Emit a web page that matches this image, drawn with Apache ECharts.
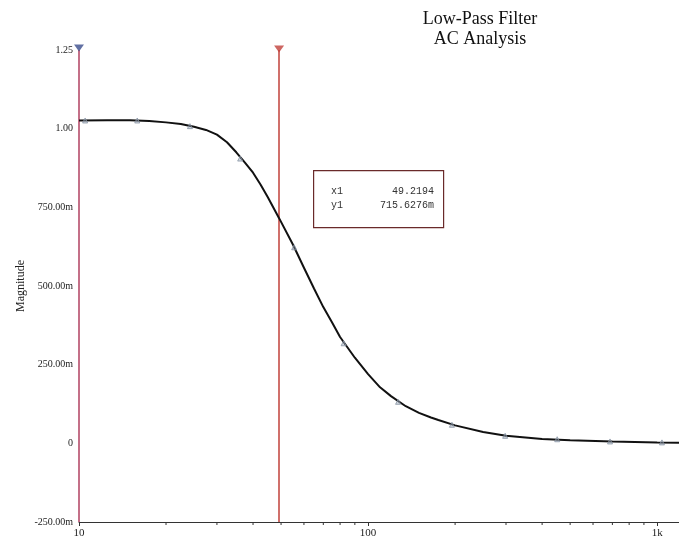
<!DOCTYPE html>
<html>
<head>
<meta charset="utf-8">
<script src="https://cdn.jsdelivr.net/npm/echarts@6/dist/echarts.min.js"></script>
<style>html,body{margin:0;padding:0;background:#fff}#c{width:679px;height:545px}</style>
</head>
<body>
<div id="c"></div>
<script>
// Curve (frequency in Hz, magnitude)
const freq = [10, 12.5, 15, 17.5, 20, 22.5, 25, 27.5, 30, 32.5, 35, 37.5, 40, 42.5, 45, 49.2194, 55, 60, 65, 70, 75, 80, 90, 100, 110, 120, 135, 150, 165, 175, 200, 250, 300, 400, 500, 700, 1000, 1190];
const mag  = [1.026, 1.027, 1.027, 1.024, 1.02, 1.015, 1.006, 0.996, 0.981, 0.957, 0.925, 0.892, 0.86, 0.822, 0.782, 0.7156, 0.631, 0.558, 0.492, 0.433, 0.385, 0.338, 0.272, 0.22, 0.178, 0.15, 0.118, 0.097, 0.082, 0.074, 0.057, 0.036, 0.024, 0.014, 0.010, 0.006, 0.003, 0.002];
// Data point markers
const markerFreq = [10.5, 15.9, 24.2, 36.1, 55.5, 82.3, 127, 195, 298, 451, 687, 1039];
const markerMag  = [1.026, 1.026, 1.008, 0.905, 0.623, 0.318, 0.132, 0.059, 0.024, 0.013, 0.006, 0.003];
// Cursors
const cursor1X = 49.2194, cursor1Y = 0.7156276, cursor2X = 10;
// Axis ticks
const yTicks = [-0.25, 0, 0.25, 0.5, 0.75, 1.0, 1.25];
const yTickLabels = ['-250.00m', '0', '250.00m', '500.00m', '750.00m', '1.00', '1.25'];
const xMajor = [10, 100, 1000];
const xMajorLabels = ['10', '100', '1k'];
const xMinor = [20, 30, 40, 50, 60, 70, 80, 90, 200, 300, 400, 500, 600, 700, 800, 900];

const chart = echarts.init(document.getElementById('c'));
const serif = '"Liberation Serif", "DejaVu Serif", serif';
chart.setOption({
  backgroundColor: '#fff',
  animation: false,
  title: {
    text: 'Low-Pass Filter\nAC Analysis',
    left: 475, top: 4, textAlign: 'center',
    textStyle: {fontFamily: serif, fontSize: 18, fontWeight: 'normal', color: '#111', lineHeight: 20}
  },
  grid: {left: 79, right: 0, top: 50, bottom: 23},
  xAxis: {
    type: 'log', logBase: 10, min: 10, max: 1190,
    axisLine: {show: true, onZero: false, lineStyle: {color: '#333', width: 1}},
    axisTick: {show: true, length: 4, lineStyle: {color: '#333'}},
    splitLine: {show: false},
    axisLabel: {
      fontFamily: serif, fontSize: 11, color: '#222', margin: 6,
      showMaxLabel: false,
      formatter: v => { const i = xMajor.indexOf(Math.round(v)); return i >= 0 ? xMajorLabels[i] : ''; }
    }
  },
  yAxis: {
    type: 'value', min: -0.25, max: 1.25, interval: 0.25,
    name: 'Magnitude', nameLocation: 'middle', nameRotate: 90, nameGap: 52,
    nameMoveOverlap: false,
    nameTextStyle: {fontFamily: serif, fontSize: 12, color: '#222'},
    axisLine: {show: false},
    axisTick: {show: false},
    splitLine: {show: false},
    axisLabel: {
      fontFamily: serif, fontSize: 10, color: '#222', margin: 6,
      formatter: v => { const i = yTicks.findIndex(t => Math.abs(t - v) < 1e-6); return i >= 0 ? yTickLabels[i] : ''; }
    }
  },
  series: [
    {
      type: 'line', data: freq.map((f, i) => [f, mag[i]]),
      showSymbol: false, smooth: false,
      lineStyle: {color: '#111', width: 2},
      z: 5,
      markLine: {
        silent: true, symbol: ['none', 'none'], label: {show: false},
        data: [
          {xAxis: cursor1X, lineStyle: {color: '#c0403a', width: 1.5, type: 'solid'}},
          {xAxis: cursor2X, lineStyle: {color: '#b04060', width: 1.5, type: 'solid'}}
        ]
      }
    },
    {
      type: 'scatter', data: markerFreq.map((f, i) => [f, markerMag[i]]),
      symbol: 'triangle', symbolSize: 5,
      itemStyle: {color: 'rgba(140,155,175,0.5)', borderColor: '#8794a4', borderWidth: 1},
      z: 6
    },
    {
      type: 'scatter', data: [[cursor1X, 1.25]],
      symbol: 'triangle', symbolRotate: 180, symbolSize: [10, 7], symbolOffset: [0, -1],
      itemStyle: {color: '#c0403a'}, z: 7
    },
    {
      type: 'scatter', data: [[cursor2X, 1.25]],
      symbol: 'triangle', symbolRotate: 180, symbolSize: [10, 7], symbolOffset: [0, -2],
      itemStyle: {color: '#3a4c8c'}, z: 7
    },
    {
      type: 'custom', data: xMinor.map(v => [v, -0.25]), silent: true, z: 4,
      renderItem: (params, api) => {
        const p = api.coord([api.value(0), api.value(1)]);
        return {type: 'line', shape: {x1: p[0], y1: p[1], x2: p[0], y2: p[1] + 3}, style: {stroke: '#333', lineWidth: 1}};
      }
    }
  ],
  graphic: [
    {type: 'rect', left: 313, top: 170, shape: {width: 130, height: 57}, style: {fill: '#fff', stroke: '#6a2a2a', lineWidth: 1.2}, z: 10},
    {type: 'text', left: 331, top: 186, style: {text: 'x1', font: '10px "Liberation Mono", monospace', fill: '#333'}, z: 11},
    {type: 'text', left: 331, top: 200, style: {text: 'y1', font: '10px "Liberation Mono", monospace', fill: '#333'}, z: 11},
    {type: 'text', right: 679 - 434, top: 186, style: {text: cursor1X.toFixed(4), font: '10px "Liberation Mono", monospace', fill: '#333', textAlign: 'right'}, z: 11},
    {type: 'text', right: 679 - 434, top: 200, style: {text: (cursor1Y * 1000).toFixed(4) + 'm', font: '10px "Liberation Mono", monospace', fill: '#333', textAlign: 'right'}, z: 11}
  ]
});
</script>
</body>
</html>
